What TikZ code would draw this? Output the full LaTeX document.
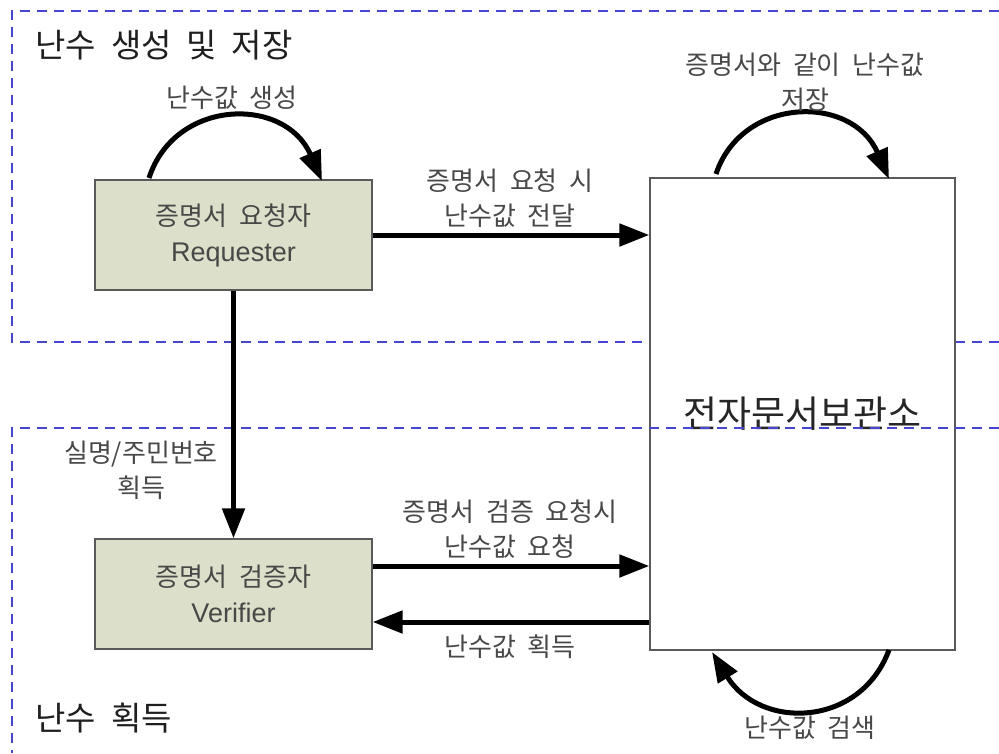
\documentclass[tikz,border=0pt]{standalone}
\usepackage{fontspec}
\setmainfont[WordSpace=2]{Noto Sans CJK KR}
\newfontfamily\latinfont{Liberation Sans}
\usetikzlibrary{arrows.meta,calc}
\definecolor{boxfill}{RGB}{220,223,201}
\definecolor{boxline}{RGB}{90,90,90}
\definecolor{dashblue}{RGB}{70,70,210}
\definecolor{labelgray}{RGB}{72,72,72}
\tikzset{
  actor/.style={draw=boxline,line width=1.3pt,fill=boxfill,minimum width=277pt,minimum height=110pt,align=center,text=labelgray,font=\fontsize{26}{36}\selectfont},
  repo/.style={draw=boxline,line width=1.3pt,fill=white,minimum width=305pt,minimum height=472pt,text=black!85,font=\fontsize{37}{40}\selectfont},
  flow/.style={line width=5pt,-{Triangle[length=30pt,width=22pt]}},
  lbl/.style={text=labelgray,font=\fontsize{26}{35}\selectfont,align=center},
  ttl/.style={text=black!88,font=\fontsize{33}{36}\selectfont,anchor=west},
  zone/.style={draw=dashblue,line width=1.5pt,dash pattern=on 10pt off 7pt}
}
\begin{document}
\begin{tikzpicture}[x=1pt,y=-1pt]
\useasboundingbox (0,0) rectangle (999,753);
% upper zone
\draw[zone] (999,11) -- (12,11) -- (12,342) -- (999,342);
\node[ttl] (t1) at (32,45) {난수 생성 및 저장};
% boxes
\node[actor] (req) at (233.5,235) {증명서 요청자\\{\latinfont\fontsize{27}{36}\selectfont Requester}};
\node[actor] (ver) at (233.5,594) {증명서 검증자\\{\latinfont\fontsize{27}{36}\selectfont Verifier}};
\node[repo] (rep) at (802.5,414) {\raisebox{2pt}{전자문서보관소}};
% lower zone
\draw[zone] (999,428) -- (12,428) -- (12,753);
\node[ttl] (t2) at (32,718) {난수 획득};
% straight arrows
\draw[flow] (req.east) -- (req.east -| rep.west);
\node[lbl] (l1) at (510,198) {증명서 요청 시\\난수값 전달};
\draw[flow] (req.south) -- (ver.north);
\node[lbl] (l2) at (141,470) {실명/주민번호\\획득};
\coordinate (a1) at ($(ver.east)+(0,-28)$);
\coordinate (a2) at ($(ver.east)+(0,28)$);
\draw[flow] (a1) -- (a1 -| rep.west);
\node[lbl] (l3) at (510,529) {증명서 검증 요청시\\난수값 요청};
\draw[flow] (a2 -| rep.west) -- (a2);
\node[lbl] (l4) at (510,647) {난수값 획득};
% curved arrows
\coordinate (c1s) at (149,178);
\coordinate (c1e) at (322,181);
\draw[flow] (c1s) .. controls (175,98) and (285,96) .. (c1e);
\node[lbl] (l5) at (232,98) {난수값 생성};
\coordinate (c2s) at (716,174);
\coordinate (c2e) at (889,179);
\draw[flow] (c2s) .. controls (742,96) and (852,94) .. (c2e);
\node[lbl] (l6) at (805,82) {증명서와 같이 난수값\\저장};
\coordinate (c3s) at (889,650);
\coordinate (c3e) at (712,652);
\draw[flow] (c3s) .. controls (860,728) and (760,730) .. (c3e);
\node[lbl] (l7) at (810,728) {난수값 검색};
\end{tikzpicture}
\end{document}
